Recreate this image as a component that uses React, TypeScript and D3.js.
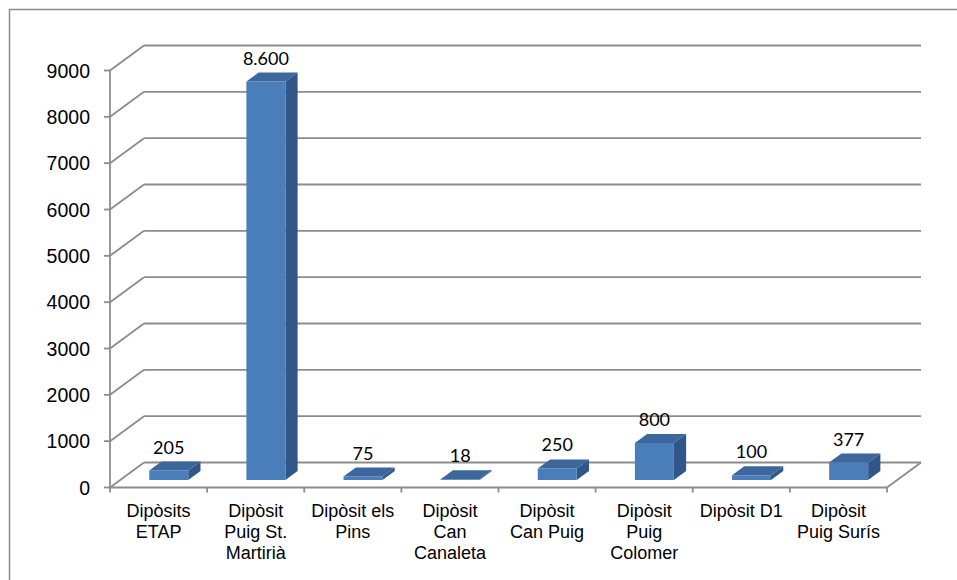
import React from "react";
import * as d3 from "d3";

// Capacitat dels dipòsits (m³)
const categories = [
  "Dipòsits ETAP",
  "Dipòsit Puig St. Martirià",
  "Dipòsit els Pins",
  "Dipòsit Can Canaleta",
  "Dipòsit Can Puig",
  "Dipòsit Puig Colomer",
  "Dipòsit D1",
  "Dipòsit Puig Surís",
];
const categoryLines = [
  ["Dipòsits", "ETAP"],
  ["Dipòsit", "Puig St.", "Martirià"],
  ["Dipòsit els", "Pins"],
  ["Dipòsit", "Can", "Canaleta"],
  ["Dipòsit", "Can Puig"],
  ["Dipòsit", "Puig", "Colomer"],
  ["Dipòsit D1"],
  ["Dipòsit", "Puig Surís"],
];
const values = [205, 8600, 75, 18, 250, 800, 100, 377];
const yTicks = [0, 1000, 2000, 3000, 4000, 5000, 6000, 7000, 8000, 9000];

const W = 957;
const H = 580;

// oblique projection offsets for the full depth of the plot
const DX = 34;
const DY = -25;
const BAR_D0 = 0.3;
const BAR_D1 = 0.66;
const BAR_W = 39;

const GRID = "#8c8c8c";
const FRONT = "#4a7ebb";
const TOP = "#3c679c";
const SIDE = "#31568a";

const caLocale = d3.formatLocale({
  decimal: ",",
  thousands: ".",
  grouping: [3],
  currency: ["", " €"],
});
const fmtValue = caLocale.format(",d");

export default function App() {
  const x = d3.scaleBand<string>().domain(categories).range([110, 887]).padding(0);
  const y = d3.scaleLinear().domain([0, 9000]).range([487.5, 70.5]);

  const proj = (px: number, v: number, d: number): [number, number] => [
    px + d * DX,
    y(v) + d * DY,
  ];
  const poly = (pts: [number, number][]) => pts.map((p) => p.join(",")).join(" ");

  const [x0, x1] = x.range();

  return (
    <svg
      width={W}
      height={H}
      style={{ position: "absolute", left: 0, top: 0, background: "#fff" }}
    >
      {/* chart frame */}
      <rect x={9.5} y={9.5} width={W + 20} height={H + 20} fill="none" stroke="#8a8a8a" strokeWidth={1.5} />

      {/* back wall gridlines and left wall diagonals */}
      {yTicks.map((t) => {
        const [bx0, by] = proj(x0, t, 1);
        const [bx1] = proj(x1, t, 1);
        const [fx, fy] = proj(x0, t, 0);
        return (
          <g key={t}>
            <line x1={fx} y1={fy} x2={bx0} y2={by} stroke={GRID} strokeWidth={1.8} />
            <line x1={bx0} y1={by} x2={bx1} y2={by} stroke={GRID} strokeWidth={1.8} />
          </g>
        );
      })}

      {/* floor: front edge and right edge */}
      {(() => {
        const [ax, ay] = proj(x0, 0, 0);
        const [bx, by] = proj(x1, 0, 0);
        const [cx, cy] = proj(x1, 0, 1);
        return (
          <g>
            <line x1={ax} y1={ay} x2={bx} y2={by} stroke={GRID} strokeWidth={1.8} />
            <line x1={bx} y1={by} x2={cx} y2={cy} stroke={GRID} strokeWidth={1.8} />
          </g>
        );
      })()}

      {/* category ticks */}
      {[...categories.map((c) => x(c)!), x1].map((px, i) => (
        <line key={i} x1={px} y1={487.5} x2={px} y2={492.5} stroke={GRID} strokeWidth={1.8} />
      ))}

      {/* value axis */}
      <line x1={x0} y1={y(0) + 1} x2={x0} y2={y(9000)} stroke={GRID} strokeWidth={1.8} />
      {yTicks.map((t) => (
        <g key={t}>
          <line x1={x0 - 6} y1={y(t)} x2={x0} y2={y(t)} stroke={GRID} strokeWidth={1.8} />
          <text
            x={90}
            y={y(t)}
            dy="0.36em"
            textAnchor="end"
            fontFamily="'Liberation Sans', Arial, sans-serif"
            fontSize={19.5}
            fill="#000"
          >
            {t}
          </text>
        </g>
      ))}

      {/* bars */}
      {categories.map((c, i) => {
        const v = values[i];
        const cxm = x(c)! + x.bandwidth() / 2;
        const l = cxm - BAR_W / 2;
        const r = cxm + BAR_W / 2;
        const fbl = proj(l, 0, BAR_D0);
        const fbr = proj(r, 0, BAR_D0);
        const ftl = proj(l, v, BAR_D0);
        const ftr = proj(r, v, BAR_D0);
        const bbr = proj(r, 0, BAR_D1);
        const btl = proj(l, v, BAR_D1);
        const btr = proj(r, v, BAR_D1);
        const labelX = (ftl[0] + ftr[0]) / 2;
        const labelY = btl[1] - 8;
        return (
          <g key={c}>
            <polygon points={poly([fbr, bbr, btr, ftr])} fill={SIDE} />
            <polygon points={poly([fbl, fbr, ftr, ftl])} fill={FRONT} />
            <polygon points={poly([ftl, ftr, btr, btl])} fill={TOP} />
            <text
              x={labelX}
              y={labelY}
              textAnchor="middle"
              fontFamily="Lato, 'Open Sans', sans-serif"
              fontSize={18}
              fill="#000"
            >
              {fmtValue(v)}
            </text>
          </g>
        );
      })}

      {/* category labels */}
      {categories.map((c, i) => (
        <text
          key={c}
          x={x(c)! + x.bandwidth() / 2}
          y={516.5}
          textAnchor="middle"
          fontFamily="'Liberation Sans', Arial, sans-serif"
          fontSize={18}
          fill="#000"
        >
          {categoryLines[i].map((ln, j) => (
            <tspan key={j} x={x(c)! + x.bandwidth() / 2} dy={j === 0 ? 0 : 21}>
              {ln}
            </tspan>
          ))}
        </text>
      ))}
    </svg>
  );
}
